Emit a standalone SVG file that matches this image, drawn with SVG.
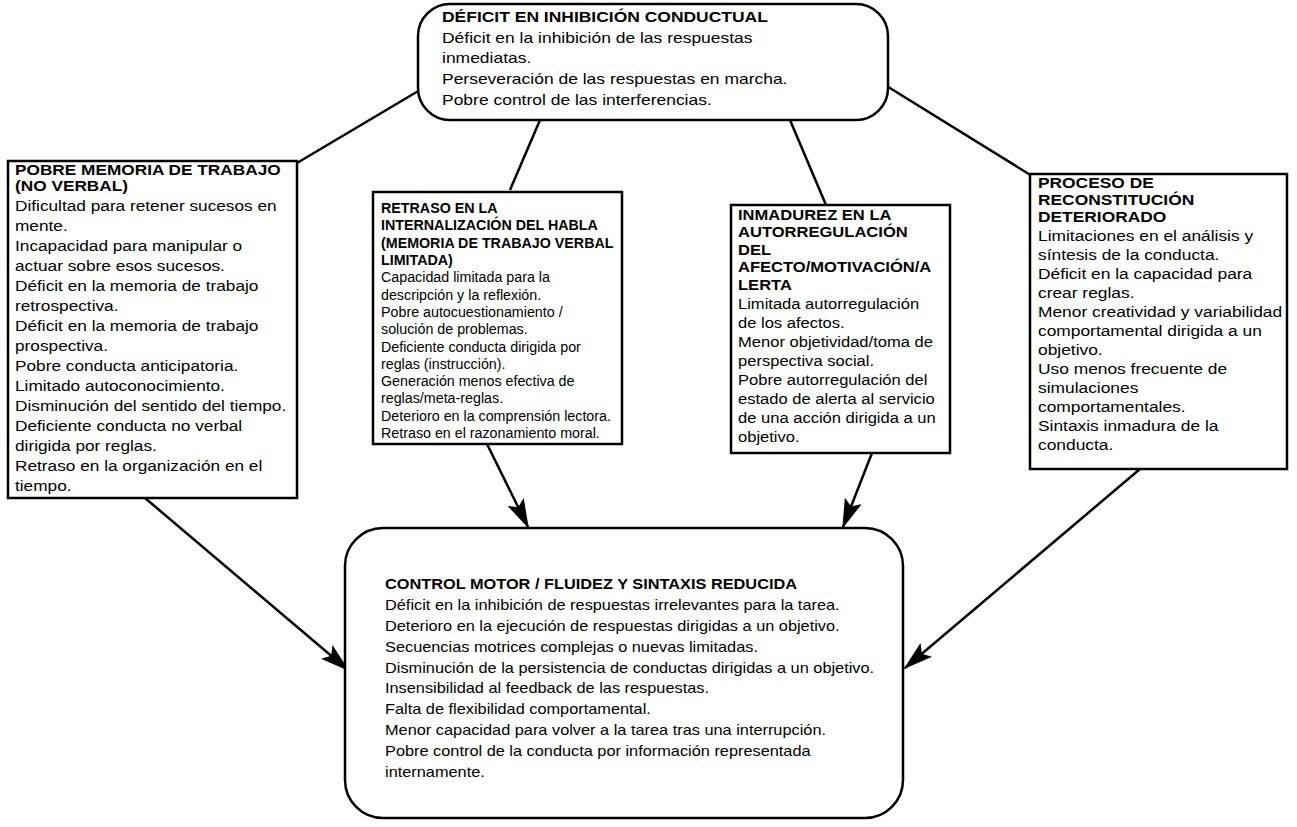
<svg xmlns="http://www.w3.org/2000/svg" width="1297" height="827" viewBox="0 0 1297 827">
<style>
.box{fill:#fff;stroke:#000;stroke-width:2.5}
.t{font-family:"Liberation Sans",Arial,Helvetica,sans-serif;fill:#000}
.b{font-weight:bold}
.ln{stroke:#000;stroke-width:2.5;fill:none}
.ar{stroke:#000;stroke-width:2.5;fill:none;marker-end:url(#ah)}
</style>
<defs>
<marker id="ah" markerWidth="30" markerHeight="18" refX="28" refY="9" orient="auto" markerUnits="userSpaceOnUse">
<path d="M0,0 L30,9 L0,18 L6,9 Z" fill="#000"/>
</marker>
</defs>
<rect width="1297" height="827" fill="#fff"/>
<g id="connectors">
<line class="ln" x1="420" y1="90" x2="297" y2="163"/>
<line class="ln" x1="540" y1="120" x2="510" y2="190"/>
<line class="ln" x1="790" y1="120" x2="826" y2="205"/>
<line class="ln" x1="885" y1="85" x2="1032" y2="176"/>
<line class="ar" x1="145" y1="498" x2="348" y2="670"/>
<line class="ar" x1="487" y1="444" x2="528" y2="527"/>
<line class="ar" x1="872" y1="453" x2="843" y2="527"/>
<line class="ar" x1="1140" y1="469" x2="905" y2="668"/>
</g>
<g id="n-top">
<rect class="box" x="418" y="4" width="470" height="116" rx="32"/>
<text class="t" font-size="15.2" transform="translate(442,0) scale(1.15,1)">
<tspan class="b" x="0" y="22">DÉFICIT EN INHIBICIÓN CONDUCTUAL</tspan>
<tspan x="0" y="43">Déficit en la inhibición de las respuestas</tspan>
<tspan x="0" y="63">inmediatas.</tspan>
<tspan x="0" y="84">Perseveración de las respuestas en marcha.</tspan>
<tspan x="0" y="105">Pobre control de las interferencias.</tspan>
</text>
</g>
<g id="n-left">
<rect class="box" x="8" y="161" width="289" height="337"/>
<text class="t" font-size="15" transform="translate(15,0) scale(1.15,1)">
<tspan class="b" x="0" y="175">POBRE MEMORIA DE TRABAJO</tspan>
<tspan class="b" x="0" y="191.5">(NO VERBAL)</tspan>
<tspan x="0" y="211">Dificultad para retener sucesos en</tspan>
<tspan x="0" y="231">mente.</tspan>
<tspan x="0" y="251">Incapacidad para manipular o</tspan>
<tspan x="0" y="271">actuar sobre esos sucesos.</tspan>
<tspan x="0" y="291">Déficit en la memoria de trabajo</tspan>
<tspan x="0" y="311">retrospectiva.</tspan>
<tspan x="0" y="331">Déficit en la memoria de trabajo</tspan>
<tspan x="0" y="351">prospectiva.</tspan>
<tspan x="0" y="371">Pobre conducta anticipatoria.</tspan>
<tspan x="0" y="391">Limitado autoconocimiento.</tspan>
<tspan x="0" y="411">Disminución del sentido del tiempo.</tspan>
<tspan x="0" y="431">Deficiente conducta no verbal</tspan>
<tspan x="0" y="451">dirigida por reglas.</tspan>
<tspan x="0" y="471">Retraso en la organización en el</tspan>
<tspan x="0" y="491">tiempo.</tspan>
</text>
</g>
<g id="n-midleft">
<rect class="box" x="373" y="192" width="249" height="252"/>
<text class="t" font-size="14" transform="translate(381,0) scale(1.02,1)">
<tspan class="b" x="0" y="213">RETRASO EN LA</tspan>
<tspan class="b" x="0" y="230.3">INTERNALIZACIÓN DEL HABLA</tspan>
<tspan class="b" x="0" y="247.6">(MEMORIA DE TRABAJO VERBAL</tspan>
<tspan class="b" x="0" y="264.9">LIMITADA)</tspan>
<tspan x="0" y="282.4">Capacidad limitada para la</tspan>
<tspan x="0" y="299.7">descripción y la reflexión.</tspan>
<tspan x="0" y="317">Pobre autocuestionamiento /</tspan>
<tspan x="0" y="334.3">solución de problemas.</tspan>
<tspan x="0" y="351.6">Deficiente conducta dirigida por</tspan>
<tspan x="0" y="368.9">reglas (instrucción).</tspan>
<tspan x="0" y="386.2">Generación menos efectiva de</tspan>
<tspan x="0" y="403.5">reglas/meta-reglas.</tspan>
<tspan x="0" y="420.8">Deterioro en la comprensión lectora.</tspan>
<tspan x="0" y="438.1">Retraso en el razonamiento moral.</tspan>
</text>
</g>
<g id="n-midright">
<rect class="box" x="731" y="205" width="219" height="248"/>
<text class="t" font-size="14.4" transform="translate(738,0) scale(1.15,1)">
<tspan class="b" x="0" y="220">INMADUREZ EN LA</tspan>
<tspan class="b" x="0" y="237.5">AUTORREGULACIÓN</tspan>
<tspan class="b" x="0" y="255">DEL</tspan>
<tspan class="b" x="0" y="272.5">AFECTO/MOTIVACIÓN/A</tspan>
<tspan class="b" x="0" y="290">LERTA</tspan>
<tspan x="0" y="309">Limitada autorregulación</tspan>
<tspan x="0" y="328">de los afectos.</tspan>
<tspan x="0" y="347">Menor objetividad/toma de</tspan>
<tspan x="0" y="366">perspectiva social.</tspan>
<tspan x="0" y="385">Pobre autorregulación del</tspan>
<tspan x="0" y="404">estado de alerta al servicio</tspan>
<tspan x="0" y="423">de una acción dirigida a un</tspan>
<tspan x="0" y="442">objetivo.</tspan>
</text>
</g>
<g id="n-right">
<rect class="box" x="1030" y="174" width="257" height="295"/>
<text class="t" font-size="15.1" transform="translate(1038,0) scale(1.15,1)">
<tspan class="b" x="0" y="188">PROCESO DE</tspan>
<tspan class="b" x="0" y="205">RECONSTITUCIÓN</tspan>
<tspan class="b" x="0" y="222">DETERIORADO</tspan>
<tspan x="0" y="241">Limitaciones en el análisis y</tspan>
<tspan x="0" y="260">síntesis de la conducta.</tspan>
<tspan x="0" y="279">Déficit en la capacidad para</tspan>
<tspan x="0" y="298">crear reglas.</tspan>
<tspan x="0" y="317">Menor creatividad y variabilidad</tspan>
<tspan x="0" y="336">comportamental dirigida a un</tspan>
<tspan x="0" y="355">objetivo.</tspan>
<tspan x="0" y="374">Uso menos frecuente de</tspan>
<tspan x="0" y="393">simulaciones</tspan>
<tspan x="0" y="412">comportamentales.</tspan>
<tspan x="0" y="431">Sintaxis inmadura de la</tspan>
<tspan x="0" y="450">conducta.</tspan>
</text>
</g>
<g id="n-bottom">
<rect class="box" x="345" y="528" width="558" height="290" rx="38"/>
<text class="t" font-size="14.2" transform="translate(385,0) scale(1.15,1)">
<tspan class="b" x="0" y="589">CONTROL MOTOR / FLUIDEZ Y SINTAXIS REDUCIDA</tspan>
<tspan x="0" y="609.9">Déficit en la inhibición de respuestas irrelevantes para la tarea.</tspan>
<tspan x="0" y="630.8">Deterioro en la ejecución de respuestas dirigidas a un objetivo.</tspan>
<tspan x="0" y="651.7">Secuencias motrices complejas o nuevas limitadas.</tspan>
<tspan x="0" y="672.6">Disminución de la persistencia de conductas dirigidas a un objetivo.</tspan>
<tspan x="0" y="693.5">Insensibilidad al feedback de las respuestas.</tspan>
<tspan x="0" y="714.4">Falta de flexibilidad comportamental.</tspan>
<tspan x="0" y="735.3">Menor capacidad para volver a la tarea tras una interrupción.</tspan>
<tspan x="0" y="756.2">Pobre control de la conducta por información representada</tspan>
<tspan x="0" y="777.1">internamente.</tspan>
</text>
</g>
</svg>
